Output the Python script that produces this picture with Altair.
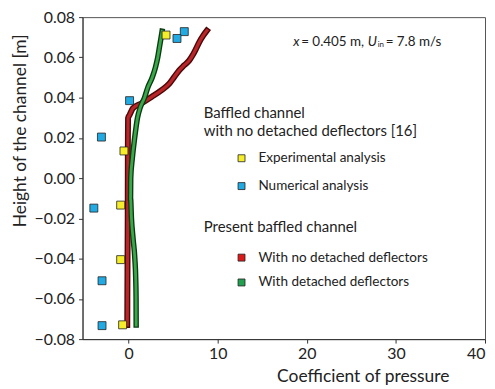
import altair as alt
import pandas as pd

# Baffled channel with no detached deflectors [16]
exp_x = [4.2, -0.52, -0.89, -0.89, -0.67]
exp_y = [0.0711, 0.0135, -0.0134, -0.0405, -0.0729]
num_x = [6.25, 5.43, 0.11, -3.05, -3.9, -2.98, -2.98]
num_y = [0.0728, 0.0694, 0.0385, 0.0204, -0.0149, -0.051, -0.0733]

# Present baffled channel
red_y = [-0.073, -0.06, -0.04, -0.02, 0.0, 0.02, 0.0298, 0.0314, 0.0347, 0.0371,
         0.0404, 0.0437, 0.047, 0.0503, 0.0536, 0.0561, 0.0585, 0.061, 0.0642,
         0.0675, 0.0708, 0.0733]
red_x = [-0.15, -0.14, -0.12, -0.1, -0.09, -0.08, -0.06, 0.11, 0.48, 1.42,
         2.6, 3.7, 4.58, 5.13, 5.69, 6.25, 6.81, 7.18, 7.56, 7.92, 8.37, 8.78]
green_y = [-0.073, -0.06, -0.05, -0.04, -0.03, -0.02, -0.01, 0.0, 0.01, 0.02,
           0.03, 0.035, 0.04, 0.045, 0.05, 0.055, 0.06, 0.065, 0.07, 0.073]
green_x = [0.85, 0.84, 0.8, 0.7, 0.5, 0.32, 0.22, 0.24, 0.42, 0.68,
           1.0, 1.3, 1.79, 2.15, 2.65, 3.01, 3.27, 3.46, 3.65, 3.76]

x_ticks = [0, 10, 20, 30, 40]
y_ticks = [-0.08, -0.06, -0.04, -0.02, 0.0, 0.02, 0.04, 0.06, 0.08]

FONT = "Lato"

exp_df = pd.DataFrame({"x": exp_x, "y": exp_y})
num_df = pd.DataFrame({"x": num_x, "y": num_y})
red_df = pd.DataFrame({"x": red_x, "y": red_y, "i": range(len(red_x))})
green_df = pd.DataFrame({"x": green_x, "y": green_y, "i": range(len(green_x))})

xs = alt.Scale(domain=[-5.17, 40], nice=False, zero=False)
ys = alt.Scale(domain=[-0.08, 0.08], nice=False, zero=False)

X = alt.X("x:Q", scale=xs, axis=alt.Axis(
    values=x_ticks, title="Coefficient of pressure", titleX=282, titleY=38,
    titleBaseline="middle", titleAlign="center", labelPadding=3))
Y = alt.Y("y:Q", scale=ys, axis=alt.Axis(
    values=y_ticks, format=".2f", title="Height of the channel [m]",
    titleX=-62, titleY=114, titleBaseline="middle", titleAlign="center",
    labelPadding=4))


def curve(df, outer, inner, w_out, w_in):
    base = alt.Chart(df).encode(x=X, y=Y, order="i:Q")
    return base.mark_line(color=outer, strokeWidth=w_out, strokeCap="square",
                          interpolate="monotone") + \
        base.mark_line(color=inner, strokeWidth=w_in, strokeCap="square",
                       interpolate="monotone")


red = curve(red_df, "#4a0808", "#b8262a", 6, 3.2)
green = curve(green_df, "#0c3a12", "#3aa84a", 5.5, 2.8)

exp_pts = alt.Chart(exp_df).mark_square(size=64, color="#f5ec2a", opacity=1,
                                        stroke="#222", strokeWidth=0.8).encode(x=X, y=Y)
num_pts = alt.Chart(num_df).mark_square(size=64, color="#22aae2", opacity=1,
                                        stroke="#222", strokeWidth=0.8).encode(x=X, y=Y)

one = alt.Data(values=[{"a": 0}])


def txt(s, x, y, size, style="normal", align="left"):
    return alt.Chart(one).mark_text(
        text=s, font=FONT, fontSize=size, fontStyle=style, align=align,
        baseline="middle", color="#222").encode(x=alt.value(x), y=alt.value(y))


def sq(x, y, fill):
    return alt.Chart(one).mark_square(size=49, color=fill, opacity=1,
                                      stroke="#222", strokeWidth=0.8).encode(
        x=alt.value(x), y=alt.value(y))


legend = [
    txt("Baffled channel", 122, 96, 15),
    txt("with no detached deflectors [16]", 122, 115, 15),
    sq(160, 142, "#f5ec2a"), txt("Experimental analysis", 177, 142, 13.6),
    sq(160, 170, "#22aae2"), txt("Numerical analysis", 177, 170, 13.6),
    txt("Present baffled channel", 122, 211, 15),
    sq(160, 242, "#dd1a1a"), txt("With no detached deflectors", 177, 242, 13.6),
    sq(160, 267, "#22a050"), txt("With detached deflectors", 177, 267, 13.6),
]

annot = [
    txt("x", 212, 25, 13.5, "italic"),
    txt("= 0.405 m,", 220, 25, 13.5),
    txt("U", 287, 25, 13.5, "italic"),
    txt("in", 297, 28, 8),
    txt("= 7.8 m/s", 305, 25, 13.5),
]

chart = alt.layer(red, green, exp_pts, num_pts, *legend, *annot).properties(
    width=405, height=324,
    autosize=alt.AutoSizeParams(type="none"),
    padding={"left": 75, "top": 8, "right": 2, "bottom": 48},
).configure_view(stroke="#555", strokeWidth=1).configure_axis(
    labelFont=FONT, labelFontSize=16, labelColor="#222",
    titleFont=FONT, titleFontSize=17.5, titleFontWeight="normal", titleColor="#222",
    domainColor="#333", tickColor="#333", tickSize=4, grid=False,
)

chart.save("out.html", embed_options={"renderer": "svg", "actions": False})
